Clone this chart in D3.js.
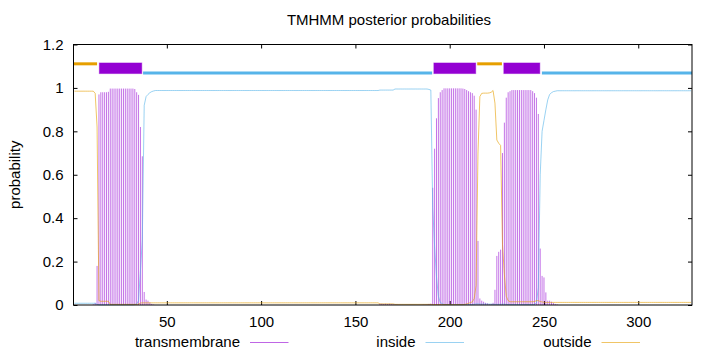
<!DOCTYPE html>
<html><head><meta charset="utf-8">
<script src="https://cdn.jsdelivr.net/npm/d3@7"></script>
<style>
body{margin:0;background:#fff}
svg{display:block}
text{font-family:"Liberation Sans",Arial,sans-serif;font-size:15px;fill:#000}
</style>
</head><body>
<svg id="chart" width="720" height="352"></svg>
<script>
// ---------------- data ----------------
const title = "TMHMM posterior probabilities";
const yLabel = "probability";
const seqLength = 328;
const xTicks = [50, 100, 150, 200, 250, 300];
const yTicks = [0, 0.2, 0.4, 0.6, 0.8, 1, 1.2];
const legendLabels = ["transmembrane", "inside", "outside"];

// predicted topology (residue coordinates)
const segType  = ["outside", "TMhelix", "inside", "TMhelix", "outside", "TMhelix", "inside"];
const segStart = [0.5, 14.2, 37.4, 191.6, 214.6, 228.7, 248.9];
const segEnd   = [13, 36.7, 190.7, 213.8, 227.7, 247.8, 328.5];

// per-residue posterior probabilities, residues 1..328
const tmProb = [
0,0,0,0,0,0,0,0,0,0,
.003,.01,.18,.97,.98,.98,.98,.98,.982,.997,
.997,.997,.997,.997,.997,.997,.997,.997,.997,.997,
.997,.997,.995,.98,.968,.82,.685,.06,.025,.02,
.012,.005,.002,0,0,0,0,0,0,0,
0,0,0,0,0,0,0,0,0,0,
0,0,0,0,0,0,0,0,0,0,
0,0,0,0,0,0,0,0,0,0,
0,0,0,0,0,0,0,0,0,0,
0,0,0,0,0,0,0,0,0,0,
0,0,0,0,0,0,0,0,0,0,
0,0,0,0,0,0,0,0,0,0,
0,0,0,0,0,0,0,0,0,0,
0,0,0,0,0,0,0,0,0,0,
0,0,0,0,0,0,0,0,0,0,
0,0,0,0,0,0,0,0,0,0,
0,0,.006,.006,.005,.006,.005,.006,.005,.004,
.002,.002,.001,.001,.001,.001,.001,.001,.001,.001,
.001,.001,.001,.001,.001,.002,.002,.003,.005,.006,
.54,.72,.86,.953,.98,.99,.998,.998,.998,.998,
.998,.998,.998,.998,.998,.998,.997,.995,.99,.985,
.98,.976,.964,.9,.295,.03,.02,.015,.01,.008,
.004,.005,.01,.07,.226,.245,.255,.7,.84,.955,
.98,.985,.99,.99,.99,.99,.99,.99,.99,.99,
.99,.99,.99,.985,.976,.955,.88,.26,.134,.127,
.058,.02,.02,.015,.01,.005,.003,0,0,0,
0,0,0,0,0,0,0,0,0,0,
0,0,0,0,0,0,0,0,0,0,
0,0,0,0,0,0,0,0,0,0,
0,0,0,0,0,0,0,0,0,0,
0,0,0,0,0,0,0,0,0,0,
0,0,0,0,0,0,0,0,0,0,
0,0,0,0,0,0,0,0
];
const insideProb = [
.008,.008,.008,.008,.008,.008,.008,.008,.008,.008,
.008,.008,.003,.001,.001,.001,.001,.001,.001,.001,
.001,.001,.001,.001,.001,.001,.001,.001,.001,.001,
.001,.001,.002,.005,.02,.16,.3,.92,.96,.97,
.978,.983,.986,.988,.988,.988,.988,.988,.988,.988,
.988,.988,.988,.988,.988,.988,.988,.988,.988,.988,
.988,.988,.988,.988,.988,.988,.988,.988,.988,.988,
.988,.988,.988,.988,.988,.988,.988,.988,.988,.988,
.988,.988,.988,.988,.988,.988,.988,.988,.988,.988,
.988,.988,.988,.988,.988,.988,.988,.988,.988,.988,
.988,.988,.988,.988,.988,.988,.988,.988,.988,.988,
.988,.988,.988,.988,.988,.988,.988,.988,.988,.988,
.988,.988,.988,.988,.988,.988,.988,.988,.988,.988,
.988,.988,.988,.988,.988,.988,.988,.988,.988,.988,
.988,.988,.988,.988,.988,.988,.988,.988,.988,.988,
.988,.988,.988,.988,.988,.988,.988,.988,.988,.988,
.988,.988,.99,.99,.99,.99,.99,.99,.99,.99,
.995,.995,.995,.995,.995,.995,.995,.995,.995,.995,
.995,.995,.995,.995,.995,.995,.995,.995,.993,.99,
.45,.27,.13,.04,.012,.006,.002,.002,.002,.002,
.002,.002,.002,.002,.002,.002,.002,.002,.002,.002,
.002,.002,.003,.005,.005,.004,.004,.004,.004,.004,
.004,.004,.003,.003,.003,.003,.003,.004,.004,.003,
.002,.002,.002,.002,.002,.002,.002,.002,.002,.002,
.002,.002,.002,.002,.003,.01,.08,.6,.8,.85,
.9,.945,.97,.978,.983,.985,.987,.987,.987,.987,
.987,.987,.987,.987,.987,.987,.987,.987,.987,.987,
.987,.987,.987,.987,.987,.987,.987,.987,.987,.987,
.987,.987,.987,.987,.987,.987,.987,.987,.987,.987,
.987,.987,.987,.987,.987,.987,.987,.987,.987,.987,
.987,.987,.987,.987,.987,.987,.987,.987,.987,.987,
.987,.987,.987,.987,.987,.987,.987,.987,.987,.987,
.987,.987,.987,.987,.987,.987,.987,.987
];
const outsideProb = [
.985,.985,.985,.985,.985,.985,.985,.985,.985,.985,
.985,.975,.82,.02,.017,.017,.017,.017,.017,.003,
.003,.003,.003,.003,.003,.003,.003,.003,.003,.003,
.003,.003,.003,.003,.004,.009,.01,.01,.01,.01,
.01,.01,.01,.01,.01,.01,.01,.01,.01,.01,
.01,.01,.01,.01,.01,.01,.01,.01,.01,.01,
.01,.01,.01,.01,.01,.01,.01,.01,.01,.01,
.01,.01,.01,.01,.01,.01,.01,.01,.01,.01,
.01,.01,.01,.01,.01,.01,.01,.01,.01,.01,
.01,.01,.01,.01,.01,.01,.01,.01,.01,.01,
.01,.01,.01,.01,.01,.01,.01,.01,.01,.01,
.01,.01,.01,.01,.01,.01,.01,.01,.01,.01,
.01,.01,.01,.01,.01,.01,.01,.01,.01,.01,
.01,.01,.01,.01,.01,.01,.01,.01,.01,.01,
.01,.01,.01,.01,.01,.01,.01,.01,.01,.01,
.01,.01,.01,.01,.01,.01,.01,.01,.01,.01,
.01,.01,.005,.005,.005,.005,.005,.005,.005,.005,
.003,.003,.003,.003,.003,.003,.003,.003,.003,.003,
.003,.003,.003,.003,.003,.003,.003,.003,.003,.003,
.002,.002,.002,.002,.002,.002,.002,.002,.002,.002,
.002,.002,.002,.002,.002,.002,.002,.003,.005,.008,
.011,.014,.03,.09,.7,.96,.975,.976,.976,.976,
.977,.98,.988,.93,.76,.745,.735,.28,.14,.04,
.02,.015,.015,.015,.015,.015,.015,.015,.015,.015,
.015,.015,.015,.015,.016,.02,.02,.016,.014,.013,
.012,.012,.012,.012,.012,.012,.012,.012,.012,.012,
.012,.012,.012,.012,.012,.012,.012,.012,.012,.012,
.012,.012,.012,.012,.012,.012,.012,.012,.012,.012,
.012,.012,.012,.012,.012,.012,.012,.012,.012,.012,
.012,.012,.012,.012,.012,.012,.012,.012,.012,.012,
.012,.012,.012,.012,.012,.012,.012,.012,.012,.012,
.012,.012,.012,.012,.012,.012,.012,.012,.012,.012,
.012,.012,.012,.012,.012,.012,.012,.012
];

// ---------------- drawing ----------------
const colTM = "#9400d3", colIn = "#56b4e9", colOut = "#e69f00";
const mLeft = 73.5, mRight = 692, mTop = 44.5, mBottom = 305;

const svg = d3.select("#chart");
const residues = tmProb.map((_, i) => i + 1);

const x = d3.scaleLinear().domain([0.5, seqLength + 0.5]).range([mLeft, mRight]);
const y = d3.scaleLinear().domain([0, 1.2]).range([mBottom, mTop]);

// title
svg.append("text").attr("x", 389).attr("y", 25).attr("text-anchor", "middle").text(title);

// y label
svg.append("text").attr("transform", `translate(20,${(mTop + mBottom) / 2}) rotate(-90)`)
  .attr("text-anchor", "middle").text(yLabel);

// axes (inward ticks, mirrored)
const gx = svg.append("g").attr("transform", `translate(0,${mBottom})`)
  .call(d3.axisBottom(x).tickValues(xTicks).tickSizeInner(-4).tickSizeOuter(0).tickPadding(11).tickFormat(d3.format("d")));
const gxt = svg.append("g").attr("transform", `translate(0,${mTop})`)
  .call(d3.axisTop(x).tickValues(xTicks).tickSizeInner(-4).tickSizeOuter(0).tickFormat(""));
const gy = svg.append("g").attr("transform", `translate(${mLeft},0)`)
  .call(d3.axisLeft(y).tickValues(yTicks).tickSizeInner(-4).tickSizeOuter(0).tickPadding(10).tickFormat(d => String(d)));
const gyr = svg.append("g").attr("transform", `translate(${mRight},0)`)
  .call(d3.axisRight(y).tickValues(yTicks).tickSizeInner(-4).tickSizeOuter(0).tickFormat(""));
[gx, gxt, gy, gyr].forEach(g => {
  g.select(".domain").remove();
  g.selectAll("line").attr("stroke", "#000").attr("stroke-width", 1);
  g.selectAll("text").attr("fill", "#000");
  g.attr("font-size", null).attr("font-family", null);
});

const plot = svg.append("g");

// TM impulses
plot.append("g").selectAll("line").data(residues.filter((r, i) => tmProb[i] > 0)).join("line")
  .attr("x1", r => x(r)).attr("x2", r => x(r))
  .attr("y1", y(0)).attr("y2", r => y(tmProb[r - 1]))
  .attr("stroke", colTM).attr("stroke-width", 1).attr("stroke-opacity", 0.55);

// inside / outside lines
const line = d3.line().x((v, i) => x(i + 1)).y(v => y(v));
plot.append("path").datum(insideProb).attr("d", line)
  .attr("fill", "none").attr("stroke", colIn).attr("stroke-width", 1).attr("stroke-opacity", 0.6);
plot.append("path").datum(outsideProb).attr("d", line)
  .attr("fill", "none").attr("stroke", colOut).attr("stroke-width", 1).attr("stroke-opacity", 0.6);

// topology band
const segs = segType.map((t, i) => ({ type: t, s: segStart[i], e: segEnd[i] }));
const band = svg.append("g");
band.selectAll("rect").data(segs.filter(d => d.type === "TMhelix")).join("rect")
  .attr("x", d => x(d.s)).attr("width", d => x(d.e) - x(d.s))
  .attr("y", y(1.115)).attr("height", y(1.066) - y(1.115))
  .attr("fill", colTM).attr("stroke", colTM).attr("stroke-opacity", 0.45).attr("stroke-width", 1);
band.selectAll("line").data(segs.filter(d => d.type !== "TMhelix")).join("line")
  .attr("x1", d => x(d.s)).attr("x2", d => x(d.e))
  .attr("y1", d => y(d.type === "outside" ? 1.111 : 1.069))
  .attr("y2", d => y(d.type === "outside" ? 1.111 : 1.069))
  .attr("stroke", d => d.type === "outside" ? colOut : colIn).attr("stroke-width", 3);

// border
svg.append("rect").attr("x", mLeft).attr("y", mTop).attr("width", mRight - mLeft).attr("height", mBottom - mTop)
  .attr("fill", "none").attr("stroke", "#000").attr("stroke-width", 1);

// legend
const legendColors = [colTM, colIn, colOut];
const legendTextEnd = [240, 415.5, 591.5];
const lg = svg.append("g");
legendLabels.forEach((lab, i) => {
  lg.append("text").attr("x", legendTextEnd[i]).attr("y", 347).attr("text-anchor", "end").text(lab);
  lg.append("line").attr("x1", legendTextEnd[i] + 10).attr("x2", legendTextEnd[i] + 48.5)
    .attr("y1", 342.5).attr("y2", 342.5)
    .attr("stroke", legendColors[i]).attr("stroke-width", 1).attr("stroke-opacity", 0.6);
});
</script>
</body></html>
